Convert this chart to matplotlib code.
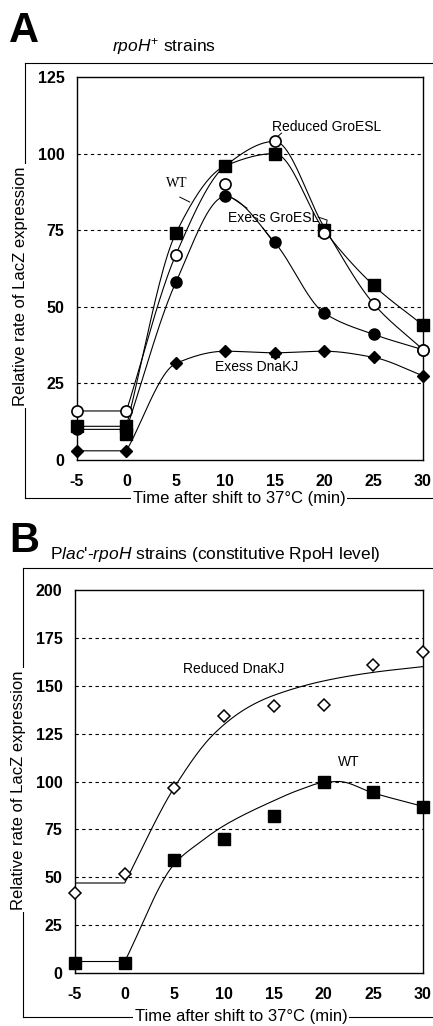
import numpy as np
import matplotlib
matplotlib.use("Agg")
import matplotlib.pyplot as plt
from matplotlib.lines import Line2D

plt.rcParams['font.family'] = ['Liberation Sans', 'DejaVu Sans']
plt.rcParams['mathtext.fontset'] = 'custom'
plt.rcParams['mathtext.rm'] = 'Liberation Sans'
plt.rcParams['mathtext.it'] = 'Liberation Sans:italic'
plt.rcParams['axes.unicode_minus'] = False

# ---------------- data ----------------
time = [-5, 0, 5, 10, 15, 20, 25, 30]
xticks = [-5, 0, 5, 10, 15, 20, 25, 30]

# Panel A (rpoH+ strains)
a_reduced_groesl = [16, 16, 67, 90, 104, 74, 51, 36]
a_wt = [11, 11, 74, 96, 100, 75, 57, 44]
a_wt_extra_x = [0]
a_wt_extra_y = [8.5]
a_excess_groesl = [10, 10, 58, 86, 71, 48, 41, 36]
a_excess_dnakj = [3, 3, 31.5, 35.5, 35, 35.5, 33.5, 27.5]
a_fit_reduced_groesl = [16, 16, 67, 96, 104, 76, 51, 36]
a_yticks = [0, 25, 50, 75, 100, 125]

# Panel B (Plac'-rpoH strains)
b_reduced_dnakj = [42, 51.5, 96.5, 134, 139.5, 140, 161, 167.5]
b_wt = [5, 5, 59, 70, 82, 100, 94.5, 86.5]
b_fit_reduced_x = [-5, 0, 5, 9, 12.5, 15, 20, 25, 30]
b_fit_reduced_y = [47, 47, 97, 125, 139, 145, 152.5, 157, 160]
b_fit_wt_x = [-5, 0, 5, 7.5, 10, 15, 17.5, 20, 21.5, 25, 30]
b_fit_wt_y = [6, 6, 57, 68, 77, 90, 95.5, 99.5, 100, 94, 87]
b_yticks = [0, 25, 50, 75, 100, 125, 150, 175, 200]


def pchip(xs, ys, n=25):
    """Monotone cubic curve through the points; the pre-shift baseline is straight."""
    xs = np.asarray(xs, float)
    ys = np.asarray(ys, float)
    px, py = xs[1:], ys[1:]
    h = np.diff(px)
    d = np.diff(py) / h
    m = np.zeros(len(px))
    for i in range(1, len(px) - 1):
        if d[i - 1] * d[i] > 0:
            w1 = 2 * h[i] + h[i - 1]
            w2 = h[i] + 2 * h[i - 1]
            m[i] = (w1 + w2) / (w1 / d[i - 1] + w2 / d[i])
    m[0] = d[0]
    m[-1] = d[-1]
    out_x = [xs[0], px[0]]
    out_y = [ys[0], py[0]]
    for i in range(len(px) - 1):
        t = np.linspace(0, 1, n)[1:]
        h00 = 2 * t ** 3 - 3 * t ** 2 + 1
        h10 = t ** 3 - 2 * t ** 2 + t
        h01 = -2 * t ** 3 + 3 * t ** 2
        h11 = t ** 3 - t ** 2
        out_x.extend((px[i] + t * h[i]).tolist())
        out_y.extend((h00 * py[i] + h10 * h[i] * m[i] + h01 * py[i + 1] + h11 * h[i] * m[i + 1]).tolist())
    return out_x, out_y


W, H = 433, 1026
fig = plt.figure(figsize=(W / 100, H / 100), dpi=100)


def fx(px):
    return px / W


def fy(py):
    return 1 - py / H


def style_axes(ax, yticks, ymax):
    ax.set_xlim(-5, 30)
    ax.set_ylim(0, ymax)
    ax.set_xticks(xticks)
    ax.set_yticks(yticks)
    ax.tick_params(axis='both', length=0, labelsize=11.5)
    ax.tick_params(axis='y', pad=9)
    ax.tick_params(axis='x', pad=10)
    for lab in ax.get_xticklabels() + ax.get_yticklabels():
        lab.set_fontweight('bold')
    for s in ax.spines.values():
        s.set_linewidth(1.0)
    for yv in yticks[1:-1]:
        ax.axhline(yv, color='black', lw=0.8, ls=(0, (3, 3)), zorder=1)


mk = dict(clip_on=False, linestyle='none')
lk = dict(color='black', lw=0.8, zorder=2)
tk = dict(fontsize=10, color='black')
ll = dict(color='black', lw=0.7)

# ---------------- Panel A ----------------
axA = fig.add_axes([fx(77), fy(460), fx(423) - fx(77), fy(77) - fy(460)])
style_axes(axA, a_yticks, 125)
for ys in (a_fit_reduced_groesl, a_wt, a_excess_groesl, a_excess_dnakj):
    sx, sy = pchip(time, ys)
    axA.plot(sx, sy, **lk)
axA.plot(time, a_excess_dnakj, marker='D', color='black', ms=6, zorder=4, **mk)
axA.plot(time, a_excess_groesl, marker='o', color='black', ms=8, zorder=4, **mk)
axA.plot(time, a_wt, marker='s', color='black', ms=9, zorder=5, **mk)
axA.plot(a_wt_extra_x, a_wt_extra_y, marker='s', color='black', ms=8, zorder=5, **mk)
axA.plot(time, a_reduced_groesl, marker='o', mfc='white', mec='black', mew=1.2, ms=8, zorder=6, **mk)
axA.plot([15], [34.8], marker='^', color='black', ms=6, zorder=4, **mk)

axA.text(20.3, 108.7, 'Reduced GroESL', ha='center', va='center', **tk)
axA.text(5.1, 90.4, 'WT', ha='center', va='center', fontfamily='Liberation Serif', fontsize=10)
axA.text(14.9, 79, 'Exess GroESL', ha='center', va='center', **tk)
axA.text(13.2, 30.4, 'Exess DnaKJ', ha='center', va='center', **tk)
# leader lines
axA.plot([5.4, 6.4], [85.8, 84.2], **ll)
axA.plot([10.7, 12.2], [85.5, 82.2], **ll)
axA.plot([13.8, 14.7], [75.7, 71.8], **ll)
axA.plot([19.4, 20.3, 20.2], [79.3, 78.3, 76.0], **ll)
axA.plot([15.7, 15.0], [106.7, 104.8], **ll)

# ---------------- Panel B ----------------
axB = fig.add_axes([fx(75), fy(973), fx(423) - fx(75), fy(590) - fy(973)])
style_axes(axB, b_yticks, 200)
sx, sy = pchip(b_fit_reduced_x, b_fit_reduced_y)
axB.plot(sx, sy, **lk)
sx, sy = pchip(b_fit_wt_x, b_fit_wt_y)
axB.plot(sx, sy, **lk)
axB.plot(time, b_reduced_dnakj, marker='D', mfc='white', mec='black', mew=1.1, ms=6, zorder=5, **mk)
axB.plot(time, b_wt, marker='s', color='black', ms=9, zorder=5, **mk)
axB.text(11.0, 158.7, 'Reduced DnaKJ', ha='center', va='center', **tk)
axB.text(22.5, 110, 'WT', ha='center', va='center', **tk)

# ---------------- frames, labels, panel letters ----------------
def frame(left, top, bottom, right=433):
    fig.add_artist(Line2D([fx(left), fx(left)], [fy(top), fy(bottom)], color='black', lw=0.8))
    fig.add_artist(Line2D([fx(left), fx(right)], [fy(top), fy(top)], color='black', lw=0.8))
    fig.add_artist(Line2D([fx(left), fx(right)], [fy(bottom), fy(bottom)], color='black', lw=0.8))

frame(25, 63, 498)
frame(23, 568, 1017)

bb = dict(facecolor='white', edgecolor='none', pad=1.5)
lab = dict(fontsize=12, color='black', bbox=bb)
fig.text(fx(21), fy(286), 'Relative rate of LacZ expression', rotation=90,
         ha='center', va='center', **lab)
fig.text(fx(19), fy(790), 'Relative rate of LacZ expression', rotation=90,
         ha='center', va='center', **lab)
fig.text(fx(239), fy(498), 'Time after shift to 37\u00b0C (min)', ha='center', va='center', **lab)
fig.text(fx(241), fy(1017), 'Time after shift to 37\u00b0C (min)', ha='center', va='center', **lab)

fig.text(fx(9), fy(31), 'A', fontsize=30, fontweight='bold', ha='left', va='center')
fig.text(fx(9), fy(541), 'B', fontsize=30, fontweight='bold', ha='left', va='center')
fig.text(fx(112), fy(47), r'$\mathit{rpoH}^{+}$ strains', fontsize=12.5, ha='left', va='center')
fig.text(fx(50), fy(555), r'P$\mathit{lac}$'"'"r'-$\mathit{rpoH}$ strains (constitutive RpoH level)',
         fontsize=12.5, ha='left', va='center')

fig.savefig('out.png', dpi=100)
